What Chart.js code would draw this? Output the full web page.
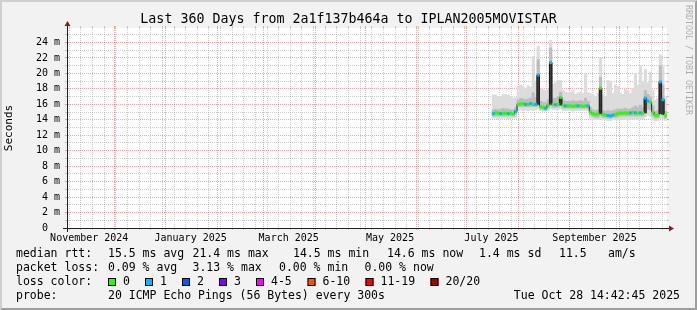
<!DOCTYPE html>
<html>
<head>
<meta charset="utf-8">
<title>Last 360 Days from 2a1f137b464a to IPLAN2005MOVISTAR</title>
<script src="https://cdn.jsdelivr.net/npm/chart.js@4/dist/chart.umd.min.js"></script>
<style>
  html, body { margin: 0; padding: 0; background: #f2f2f2; }
  #wrap { width: 697px; height: 310px; }
</style>
</head>
<body>
<div id="wrap"><canvas id="chart" width="697" height="310"></canvas></div>
<script>
// one sample every 1.5 days, starting on day 256.5 of the 360 day window
const FIRST_DAY = 256.5;
const STEP = 1.5;

// median rtt (ms)
const med = [
  14.8, 14.9, 14.85, 14.8, 14.85, 14.85, 14.8, 14.85, 14.75, 15.1,
  16.0, 16.05, 16.1, 16.0, 16.0, 16.1, 16.0, 16.0, 19.8, 15.7,
  15.6, 15.5, 15.9, 21.4, 16.0, 15.95, 16.0, 16.9, 15.9, 15.8,
  15.8, 15.8, 15.75, 15.8, 15.8, 15.8, 15.75, 15.8, 15.8, 15.0,
  14.8, 14.7, 14.75, 18.1, 14.7, 14.6, 14.55, 14.5, 14.6, 14.7,
  14.8, 14.9, 14.85, 14.9, 14.85, 14.9, 14.95, 14.9, 14.85, 14.9,
  14.9, 16.8, 16.4, 16.3, 15.0, 14.6, 14.6, 18.9, 16.6, 14.6
];
// lost pings (of 20) per sample -> index into lossColors
const loss = [
  1, 0, 0, 1, 0, 0, 1, 0, 0, 1,
  0, 0, 0, 1, 0, 1, 0, 1, 1, 0,
  0, 1, 0, 1, 0, 1, 0, 0, 0, 1,
  0, 0, 0, 0, 1, 0, 0, 0, 1, 0,
  0, 0, 0, 0, 0, 0, 1, 1, 1, 0,
  0, 0, 0, 0, 0, 1, 0, 1, 0, 1,
  0, 1, 1, 0, 0, 0, 0, 1, 1, 0
];
// smoke: full spread of the pings
const smokeLo = [
  14.2, 14.2, 14.1, 14.2, 14.2, 14.2, 14.1, 14.2, 14.2, 14.3,
  15.3, 15.3, 15.2, 15.3, 15.2, 15.3, 15.2, 15.3, 15.4, 15.2,
  15.1, 15.1, 15.2, 15.4, 15.3, 15.3, 15.3, 15.4, 15.2, 15.2,
  15.2, 15.2, 15.1, 15.2, 15.2, 15.2, 15.2, 15.2, 15.2, 14.2,
  14.0, 14.0, 14.0, 14.1, 14.0, 14.0, 13.9, 13.9, 14.0, 14.0,
  14.0, 14.1, 14.0, 14.1, 14.0, 14.1, 14.1, 14.1, 14.0, 14.1,
  14.1, 14.4, 14.6, 14.5, 14.1, 13.9, 13.9, 14.2, 14.1, 13.9
];
const smokeHi = [
  17.2, 17.2, 17.0, 17.0, 17.3, 17.3, 17.2, 17.0, 16.8, 16.9,
  18.3, 18.5, 18.2, 18.0, 18.4, 18.2, 22.2, 19.0, 23.5, 18.0,
  17.9, 17.8, 18.0, 24.3, 18.6, 18.8, 19.1, 19.1, 17.8, 17.6,
  17.5, 17.6, 17.8, 17.3, 17.5, 17.6, 17.4, 20.0, 17.5, 17.4,
  17.3, 17.0, 17.4, 22.0, 17.2, 17.0, 19.1, 19.0, 17.4, 18.5,
  18.3, 17.5, 17.3, 18.0, 17.8, 17.4, 18.0, 20.0, 18.5, 21.0,
  19.0, 20.5, 18.8, 20.2, 17.8, 16.5, 16.8, 22.4, 21.0, 17.0
];
// denser middle part of the smoke
const midLo = [
  14.5, 14.5, 14.5, 14.5, 14.5, 14.5, 14.5, 14.5, 14.5, 14.7,
  15.7, 15.7, 15.7, 15.7, 15.7, 15.7, 15.7, 15.7, 15.8, 15.4,
  15.3, 15.2, 15.5, 15.8, 15.6, 15.6, 15.6, 15.8, 15.5, 15.5,
  15.5, 15.5, 15.5, 15.5, 15.5, 15.5, 15.5, 15.5, 15.5, 14.6,
  14.4, 14.3, 14.3, 14.5, 14.3, 14.3, 14.2, 14.2, 14.3, 14.3,
  14.4, 14.5, 14.5, 14.5, 14.5, 14.5, 14.5, 14.5, 14.5, 14.5,
  14.5, 14.8, 15.4, 15.3, 14.5, 14.2, 14.2, 14.8, 14.6, 14.2
];
const midHi = [
  15.3, 15.4, 15.3, 15.4, 15.5, 15.4, 15.4, 15.3, 15.3, 15.6,
  16.6, 16.8, 16.7, 16.6, 16.7, 16.8, 17.5, 16.9, 21.8, 16.4,
  16.3, 16.2, 16.6, 23.3, 16.8, 16.8, 17.0, 17.6, 16.5, 16.4,
  16.4, 16.4, 16.5, 16.4, 16.4, 16.5, 16.4, 16.8, 16.4, 15.6,
  15.3, 15.2, 15.3, 19.5, 15.2, 15.1, 15.2, 15.1, 15.2, 15.3,
  15.4, 15.4, 15.4, 15.5, 15.4, 15.4, 15.6, 15.8, 15.6, 15.9,
  15.6, 17.8, 17.3, 17.0, 15.8, 15.1, 15.2, 21.0, 18.5, 15.1
];
// near-black smoke on the spikes
const darkLo = [
  null, null, null, null, null, null, null, null, null, null,
  null, null, null, null, null, null, null, null, 16.0, null,
  null, null, null, 16.0, null, null, null, 15.9, null, null,
  null, null, null, null, null, null, null, null, null, null,
  null, null, null, 14.8, null, null, null, null, null, null,
  null, null, null, null, null, null, null, null, null, null,
  null, 14.9, null, null, null, null, null, 14.8, 14.7, null
];
const darkHi = [
  null, null, null, null, null, null, null, null, null, null,
  null, null, null, null, null, null, null, null, 19.8, null,
  null, null, null, 21.4, null, null, null, 16.9, null, null,
  null, null, null, null, null, null, null, null, null, null,
  null, null, null, 18.1, null, null, null, null, null, null,
  null, null, null, null, null, null, null, null, null, null,
  null, 16.8, null, null, null, null, null, 18.9, 16.6, null
];

const xLabels = ['November 2024', 'January 2025', 'March 2025', 'May 2025', 'July 2025', 'September 2025'];
const xLabelMonths = ['2024-11-01', '2025-01-01', '2025-03-01', '2025-05-01', '2025-07-01', '2025-09-01'];
const yMajor = [0, 2, 4, 6, 8, 10, 12, 14, 16, 18, 20, 22, 24];
const yMinor = [1, 3, 5, 7, 9, 11, 13, 15, 17, 19, 21, 23, 25];
const Y_MAX = 25.88;

const lossBins = ['0', '1', '2', '3', '4-5', '6-10', '11-19', '20/20'];
const lossColors = ['#26ff00', '#00b8ff', '#0059ff', '#7e00ff', '#ff00ff', '#ff5500', '#ff0000', '#a10000'];
const rttStats = ['15.5 ms avg', '21.4 ms max', '14.5 ms min', '14.6 ms now', '1.4 ms sd', '11.5', 'am/s'];
const lossStats = ['0.09 % avg', '3.13 % max', '0.00 % min', '0.00 % now'];
const probeText = '20 ICMP Echo Pings (56 Bytes) every 300s';
const stamp = 'Tue Oct 28 14:42:45 2025';
const titleText = 'Last 360 Days from 2a1f137b464a to IPLAN2005MOVISTAR';

// layout of the legend text (x in px)
const RTT_X = [108, 192.5, 293, 387, 479, 559, 608];
const LOSS_X = [108, 192.5, 279, 364.5];
const BIN_X = [123, 160, 197, 234, 271, 322.5, 380.5, 445.5];
const ROWS = [254, 268, 282, 296];

const FONT = '"DejaVu Sans Mono", "Liberation Mono", monospace';
const GRID = 'rgba(143, 143, 143, 0.45)';
const MGRID = 'rgba(222, 79, 79, 0.5)';

// time axis, counted in days from the start of the window
const DAY = 86400000;
const GRAPH_START = Date.UTC(2024, 10, 2, 14, 42, 45);
const X_MAX = 361;
const dayOf = t => (t - GRAPH_START) / DAY;

const monthTicks = [];
for (let m = 10; m <= 22; m++) {
  const d = dayOf(Date.UTC(2024, m, 1));
  if (d > 0 && d < X_MAX) monthTicks.push(d);
}
const weekTicks = [];
for (let t = Date.UTC(2024, 10, 4); dayOf(t) < X_MAX; t += 7 * DAY) weekTicks.push(dayOf(t));
const labelTicks = xLabelMonths.map(s => dayOf(Date.parse(s)) + 15);
const xGridTicks = () => weekTicks.map(v => ({ value: v }))
  .concat(monthTicks.map(v => ({ value: v, major: true })));
const yGridTicks = () => yMajor.concat(yMinor).sort((a, b) => a - b).map(v => ({ value: v }));

const xs = med.map((_, i) => FIRST_DAY + i * STEP);
const lightData = xs.map((x, i) => ({ x, y: [smokeLo[i], smokeHi[i]] }));
const midData = xs.map((x, i) => ({ x, y: [midLo[i], midHi[i]] }));
const darkData = xs.map((x, i) => ({ x, y: darkHi[i] == null ? null : [darkLo[i], darkHi[i]] }));
const medData = xs.map((x, i) => ({ x, y: med[i] }));

const barCommon = {
  type: 'bar', xAxisID: 'x', yAxisID: 'y', grouped: false,
  barPercentage: 1, categoryPercentage: 1, borderWidth: 0
};

const xGridColor = c => (c.tick && c.tick.major) ? MGRID : GRID;
const yGridColor = c => (c.tick && yMajor.includes(c.tick.value)) ? MGRID : GRID;

const rrdDecor = {
  id: 'rrdDecor',
  beforeDraw(chart) {
    const { ctx, width: W, height: H, chartArea: a } = chart;
    ctx.save();
    ctx.fillStyle = '#f2f2f2';
    ctx.fillRect(0, 0, W, H);
    ctx.fillStyle = '#cfcfcf';
    ctx.beginPath();
    ctx.moveTo(0, H); ctx.lineTo(2, H - 2); ctx.lineTo(2, 2); ctx.lineTo(W - 2, 2);
    ctx.lineTo(W, 0); ctx.lineTo(0, 0); ctx.closePath(); ctx.fill();
    ctx.fillStyle = '#9e9e9e';
    ctx.beginPath();
    ctx.moveTo(2, H - 2); ctx.lineTo(W - 2, H - 2); ctx.lineTo(W - 2, 2);
    ctx.lineTo(W, 0); ctx.lineTo(W, H); ctx.lineTo(0, H); ctx.closePath(); ctx.fill();
    ctx.fillStyle = '#ffffff';
    ctx.fillRect(a.left, a.top, a.right - a.left, a.bottom - a.top);
    ctx.restore();
  },
  afterDraw(chart) {
    const { ctx, chartArea: a } = chart;
    const ax = a.left + 0.5, ay = a.bottom + 0.5;
    ctx.save();
    // axis stubs beyond the plot, and the arrows
    ctx.strokeStyle = '#1f1f1f';
    ctx.lineWidth = 1;
    ctx.beginPath();
    ctx.moveTo(a.left - 4, ay); ctx.lineTo(a.right + 4, ay);
    ctx.moveTo(ax, a.bottom + 4); ctx.lineTo(ax, a.top - 4);
    ctx.stroke();
    ctx.fillStyle = '#801f1f';
    ctx.beginPath();
    ctx.moveTo(a.right + 2, ay - 3); ctx.lineTo(a.right + 2, ay + 3); ctx.lineTo(a.right + 7, ay);
    ctx.closePath(); ctx.fill();
    ctx.beginPath();
    ctx.moveTo(ax - 3, a.top - 2); ctx.lineTo(ax + 3, a.top - 2); ctx.lineTo(ax, a.top - 7);
    ctx.closePath(); ctx.fill();

    // title
    ctx.fillStyle = '#000';
    ctx.textBaseline = 'middle';
    ctx.textAlign = 'center';
    ctx.font = '13.3px ' + FONT;
    ctx.fillText(titleText, 348.5, 19.5);

    // legend
    ctx.textAlign = 'left';
    ctx.font = '11.5px ' + FONT;
    ctx.fillText('median rtt:', 16, ROWS[0]);
    rttStats.forEach((s, i) => ctx.fillText(s, RTT_X[i], ROWS[0]));
    ctx.fillText('packet loss:', 16, ROWS[1]);
    lossStats.forEach((s, i) => ctx.fillText(s, LOSS_X[i], ROWS[1]));
    ctx.fillText('loss color:', 16, ROWS[2]);
    lossBins.forEach((s, i) => {
      const bx = BIN_X[i] - 15;
      ctx.fillStyle = lossColors[i];
      ctx.fillRect(bx, ROWS[2] - 4, 8, 8);
      ctx.strokeStyle = '#000';
      ctx.strokeRect(bx + 0.5, ROWS[2] - 3.5, 7, 7);
      ctx.fillStyle = '#000';
      ctx.fillText(s, BIN_X[i], ROWS[2]);
    });
    ctx.fillText('probe:', 16, ROWS[3]);
    ctx.fillText(probeText, 108, ROWS[3]);
    ctx.textAlign = 'right';
    ctx.fillText(stamp, 680, ROWS[3]);

    // watermark
    ctx.translate(688, 5);
    ctx.rotate(Math.PI / 2);
    ctx.textAlign = 'left';
    ctx.font = '8.3px ' + FONT;
    ctx.fillStyle = 'rgba(0, 0, 0, 0.3)';
    ctx.fillText('RRDTOOL / TOBI OETIKER', 0, 0);
    ctx.restore();
  }
};

new Chart(document.getElementById('chart'), {
  type: 'bar',
  data: {
    datasets: [
      { ...barCommon, label: 'smoke', data: lightData, backgroundColor: '#dcdcdc', order: 5 },
      { ...barCommon, label: 'smoke core', data: midData, backgroundColor: '#bdbdbd', order: 4 },
      { ...barCommon, label: 'smoke dense', data: darkData, backgroundColor: '#3a3a3a', order: 3 },
      {
        type: 'line', label: 'median', xAxisID: 'x', yAxisID: 'y', data: medData,
        borderColor: '#202020', borderWidth: 1, pointRadius: 0, stepped: 'middle', order: 2
      },
      {
        type: 'line', label: 'loss', xAxisID: 'x', yAxisID: 'y', data: medData, showLine: false,
        pointStyle: 'line', pointRadius: 1.4, pointBorderWidth: 3,
        pointBorderColor: loss.map(l => lossColors[l]), order: 1
      }
    ]
  },
  options: {
    responsive: false,
    devicePixelRatio: 1,
    animation: false,
    layout: { padding: { top: 28, right: 30, bottom: 62, left: 0 } },
    plugins: {
      legend: { display: false },
      tooltip: { enabled: false },
      title: { display: false }
    },
    scales: {
      x: {
        type: 'linear', position: 'bottom', min: 0, max: X_MAX, offset: false, z: 1,
        afterBuildTicks: s => { s.ticks = xGridTicks(); },
        afterFit: s => { s.height = 0; },
        ticks: { display: false, autoSkip: false },
        grid: { offset: false, drawTicks: true, tickLength: 2, lineWidth: 1, color: xGridColor },
        border: { display: true, color: '#1f1f1f', dash: [1, 1] }
      },
      xTop: {
        type: 'linear', position: 'top', min: 0, max: X_MAX, offset: false, z: 1,
        afterBuildTicks: s => { s.ticks = xGridTicks(); },
        afterFit: s => { s.height = 0; },
        ticks: { display: false, autoSkip: false },
        grid: { offset: false, drawOnChartArea: false, drawTicks: true, tickLength: 2, color: xGridColor },
        border: { display: false }
      },
      x2: {
        type: 'linear', position: 'bottom', min: 0, max: X_MAX, offset: false,
        afterBuildTicks: s => { s.ticks = labelTicks.map(v => ({ value: v })); },
        afterFit: s => { s.height = 20; },
        ticks: {
          autoSkip: false, maxRotation: 0, padding: 4, color: '#000',
          font: { family: FONT, size: 10 },
          callback: (v, i) => xLabels[i]
        },
        grid: { display: false, drawTicks: false },
        border: { display: false }
      },
      y: {
        type: 'linear', position: 'left', min: 0, max: Y_MAX, z: 1,
        afterBuildTicks: s => { s.ticks = yGridTicks(); },
        afterFit: s => { s.width = 67; },
        ticks: {
          autoSkip: false, padding: 5, color: '#000',
          font: { family: FONT, size: 10 },
          callback: v => yMajor.includes(v) ? (v === 0 ? '0  ' : v + ' m') : ''
        },
        grid: { drawTicks: true, tickLength: 2, lineWidth: 1, color: yGridColor },
        border: { display: true, color: '#1f1f1f', dash: [1, 1] },
        title: {
          display: true, text: 'Seconds', color: '#000',
          font: { family: FONT, size: 11 }, padding: { top: 3, bottom: 0 }
        }
      },
      yRight: {
        type: 'linear', position: 'right', min: 0, max: Y_MAX, z: 1,
        afterBuildTicks: s => { s.ticks = yGridTicks(); },
        afterFit: s => { s.width = 0; },
        ticks: { display: false, autoSkip: false },
        grid: { drawOnChartArea: false, drawTicks: true, tickLength: 2, color: yGridColor },
        border: { display: false }
      }
    }
  },
  plugins: [rrdDecor]
});
</script>
</body>
</html>
